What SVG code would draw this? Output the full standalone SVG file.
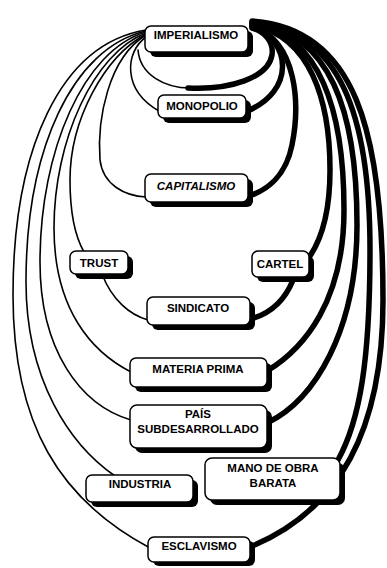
<svg xmlns="http://www.w3.org/2000/svg" width="387" height="568" viewBox="0 0 387 568">
<style>
.thin{fill:none;stroke:#000;stroke-width:1.6;stroke-linecap:round}
.thick{fill:none;stroke:#000;stroke-width:5.5;stroke-linecap:round}
.sh{fill:#000}
.box{fill:#fff;stroke:#000;stroke-width:1.5}
.lbl{font-family:"Liberation Sans",Arial,sans-serif;font-weight:bold;font-size:11.5px;text-anchor:middle;fill:#000}
</style>
<rect width="387" height="568" fill="#fff"/>
<g id="connectors">
  <!-- left (thin) sides -->
  <path class="thin" d="M146,30 C60,44 13,150 13,295 C13,425 60,500 150,548"/>
  <path class="thin" d="M146,31 C72,48 26,150 26,282 C26,380 70,445 115,476"/>
  <path class="thin" d="M146,32 C84,50 40,150 40,262 C40,350 80,405 131,420"/>
  <path class="thin" d="M146,33 C94,53 54,140 54,228 C54,310 92,352 131,372"/>
  <path class="thin" d="M146,34 C104,57 70,120 70,180 C70,215 76,238 84,252"/>
  <path class="thin" d="M146,35 C108,58 97,120 100,160 C103,185 125,196 146,197"/>
  <path class="thin" d="M146,37 C125,52 122,90 159,111"/>
  <path class="thin" d="M102,274 C112,300 130,315 148,320"/>
  <path class="thin" d="M138,50 C140,75 165,88 190,88"/>
  <!-- right (thick) sides -->
  <path class="thick" d="M188,88 C230,90 268,78 272,55 C274,42 265,32 252,28"/>
  <path class="thick" d="M252,27 C292,40 295,92 247,111"/>
  <path class="thick" d="M252,26 C298,42 300,105 292,145 C286,175 268,190 249,196"/>
  <path class="thick" d="M252,25 C310,36 330,100 330,170 C330,212 322,238 310,256"/>
  <path class="thick" d="M252,24 C320,34 344,110 344,210 C344,300 305,348 267,371"/>
  <path class="thick" d="M252,23 C330,32 357,110 357,225 C357,330 315,400 267,423"/>
  <path class="thick" d="M252,22 C340,30 370,115 370,250 C370,360 360,420 338,460"/>
  <path class="thick" d="M252,21 C355,28 383,130 383,300 C383,430 340,510 250,547"/>
  <path class="thick" d="M293,280 C285,300 272,312 254,318"/>
</g>
<g id="imperialismo">
  <rect class="sh" x="150" y="31" width="103" height="26" rx="6"/>
  <rect class="box" x="145" y="26" width="103" height="26" rx="6"/>
  <text class="lbl" x="196" y="39">IMPERIALISMO</text>
</g>
<g id="monopolio">
  <rect class="sh" x="163" y="100" width="88" height="23" rx="6"/>
  <rect class="box" x="158" y="95" width="88" height="23" rx="6"/>
  <text class="lbl" x="202" y="110">MONOPOLIO</text>
</g>
<g id="capitalismo">
  <rect class="sh" x="150" y="179" width="103" height="28" rx="6"/>
  <rect class="box" x="145" y="174" width="103" height="28" rx="6"/>
  <text class="lbl" x="196" y="190" font-style="italic">CAPITALISMO</text>
</g>
<g id="trust">
  <rect class="sh" x="75" y="256" width="58" height="23" rx="6"/>
  <rect class="box" x="70" y="251" width="58" height="23" rx="6"/>
  <text class="lbl" x="99" y="267">TRUST</text>
</g>
<g id="cartel">
  <rect class="sh" x="257" y="256" width="57" height="26" rx="6"/>
  <rect class="box" x="252" y="251" width="57" height="26" rx="6"/>
  <text class="lbl" x="280" y="268">CARTEL</text>
</g>
<g id="sindicato">
  <rect class="sh" x="152" y="302" width="103" height="28" rx="6"/>
  <rect class="box" x="147" y="297" width="103" height="28" rx="6"/>
  <text class="lbl" x="198" y="312">SINDICATO</text>
</g>
<g id="materia-prima">
  <rect class="sh" x="135" y="363" width="137" height="29" rx="6"/>
  <rect class="box" x="130" y="358" width="137" height="29" rx="6"/>
  <text class="lbl" x="198" y="373">MATERIA PRIMA</text>
</g>
<g id="pais-subdesarrollado">
  <rect class="sh" x="135" y="410" width="137" height="43" rx="7"/>
  <rect class="box" x="130" y="405" width="137" height="43" rx="7"/>
  <text class="lbl" x="198" y="418">PAÍS</text>
  <text class="lbl" x="198" y="433">SUBDESARROLLADO</text>
</g>
<g id="mano-de-obra-barata">
  <rect class="sh" x="210" y="463" width="135" height="42" rx="7"/>
  <rect class="box" x="205" y="458" width="135" height="42" rx="7"/>
  <text class="lbl" x="273" y="472">MANO DE OBRA</text>
  <text class="lbl" x="273" y="487">BARATA</text>
</g>
<g id="industria">
  <rect class="sh" x="91" y="480" width="107" height="27" rx="6"/>
  <rect class="box" x="86" y="475" width="107" height="27" rx="6"/>
  <text class="lbl" x="140" y="488">INDUSTRIA</text>
</g>
<g id="esclavismo">
  <rect class="sh" x="153" y="541" width="102" height="25" rx="6"/>
  <rect class="box" x="148" y="537" width="102" height="25" rx="6"/>
  <text class="lbl" x="199" y="550">ESCLAVISMO</text>
</g>
</svg>
